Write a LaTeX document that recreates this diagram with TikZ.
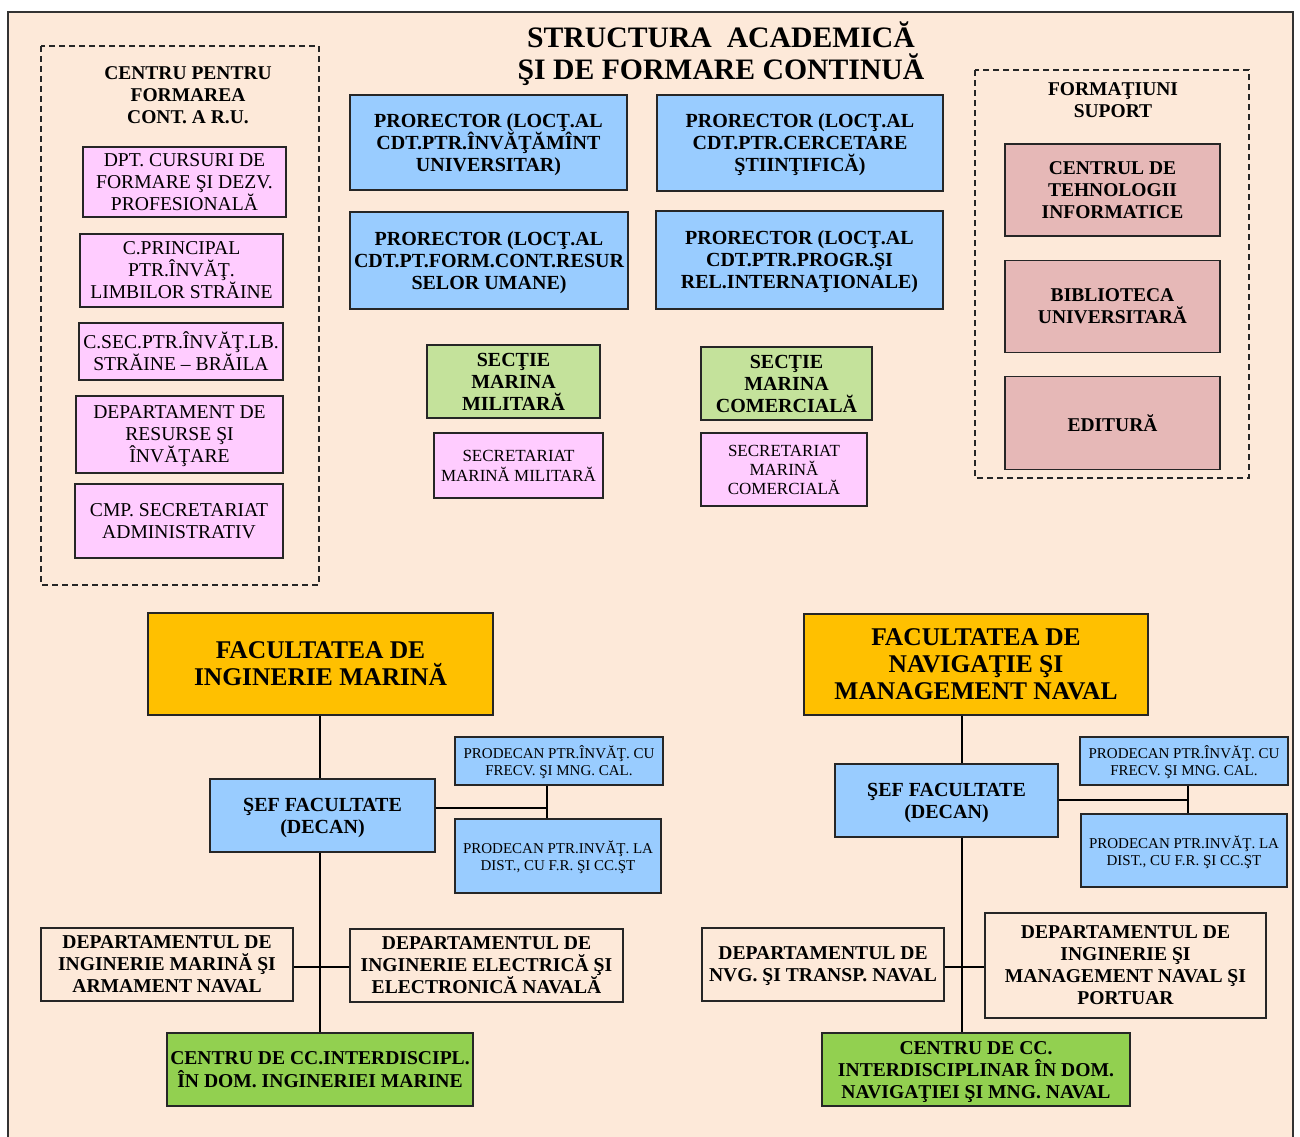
\documentclass[tikz,border=0pt]{standalone}
\usepackage{fontspec}
\setmainfont{Liberation Serif}
\usepackage{xcolor}
\usepackage{tikz}
\usetikzlibrary{positioning}

\definecolor{peach}{RGB}{253,233,217}
\definecolor{pinkfill}{RGB}{255,204,255}
\definecolor{bluefill}{RGB}{153,204,255}
\definecolor{lightgreen}{RGB}{196,226,155}
\definecolor{rosefill}{RGB}{230,184,183}
\definecolor{facyellow}{RGB}{255,192,0}
\definecolor{darkgreen}{RGB}{146,208,80}

\begin{document}
\begin{tikzpicture}[
        x=1pt, y=-1pt,
        box/.style={rectangle, draw=black!85, line width=1.3pt, align=center, inner sep=1pt, text depth=0pt},
        pinkbox/.style={box, fill=pinkfill, font=\fontsize{19.6}{22}\selectfont},
        bluebox/.style={box, fill=bluefill, font=\bfseries\fontsize{20}{22}\selectfont},
        secbox/.style={box, fill=lightgreen, font=\bfseries\fontsize{20}{22}\selectfont},
        rosebox/.style={box, fill=rosefill, font=\bfseries\fontsize{19.5}{22}\selectfont},
        facbox/.style={box, fill=facyellow, font=\bfseries\fontsize{25.5}{27}\selectfont},
        prodbox/.style={box, fill=bluefill, font=\fontsize{15}{17}\selectfont},
        deptbox/.style={box, font=\bfseries\fontsize{19.6}{22}\selectfont},
        centrubox/.style={box, fill=darkgreen, font=\bfseries\fontsize{19.6}{22.5}\selectfont},
        heading/.style={align=center, inner sep=0pt, font=\bfseries\fontsize{19.5}{22}\selectfont},
        frame/.style={draw=black!85, line width=1.3pt, dash pattern=on 6pt off 4pt},
        link/.style={draw=black, line width=1.5pt}
    ]
        \useasboundingbox (0,0) rectangle (1300,1136);
        \fill[white] (0,0) rectangle (1300,1136);
        \draw[fill=peach, draw=black!80, line width=1.3pt] (8,12) rectangle (1293,1150);

        % Title
        \node[align=center, font=\bfseries\fontsize{29.7}{32}\selectfont] (title) at (721,54)
            {STRUCTURA~ ACADEMICĂ\\ŞI DE FORMARE CONTINUĂ};

        % Left group
        \draw[frame] (41,46) rectangle (319,585);
        \node[heading] (cfc) at (188,95) {CENTRU PENTRU\\FORMAREA\\CONT. A R.U.};
        \node[pinkbox, minimum width=203pt, minimum height=70pt] (dpt) at (184.5,182)
            {DPT. CURSURI DE\\FORMARE ŞI DEZV.\\PROFESIONALĂ};
        \node[pinkbox, minimum width=203pt, minimum height=73pt] (cprinc) at (181.5,270.5)
            {C.PRINCIPAL\\PTR.ÎNVĂŢ.\\LIMBILOR STRĂINE};
        \node[pinkbox, minimum width=204pt, minimum height=57pt] (csec) at (181,351.5)
            {C.SEC.PTR.ÎNVĂŢ.LB.\\STRĂINE – BRĂILA};
        \node[pinkbox, minimum width=207pt, minimum height=77pt] (dri) at (179.5,434.5)
            {DEPARTAMENT DE\\RESURSE ŞI\\ÎNVĂŢARE};
        \node[pinkbox, minimum width=208pt, minimum height=74pt] (cmp) at (179,521)
            {CMP. SECRETARIAT\\ADMINISTRATIV};

        % Prorectors
        \node[bluebox, minimum width=277pt, minimum height=95pt] (pr1) at (488.5,142.5)
            {PRORECTOR (LOCŢ.AL\\CDT.PTR.ÎNVĂŢĂMÎNT\\UNIVERSITAR)};
        \node[bluebox, minimum width=286pt, minimum height=96pt] (pr2) at (800,143)
            {PRORECTOR (LOCŢ.AL\\CDT.PTR.CERCETARE\\ŞTIINŢIFICĂ)};
        \node[bluebox, minimum width=278pt, minimum height=97pt] (pr3) at (489,260.5)
            {PRORECTOR (LOCŢ.AL\\CDT.PT.FORM.CONT.RESUR\\SELOR UMANE)};
        \node[bluebox, minimum width=287pt, minimum height=98pt] (pr4) at (799.5,260)
            {PRORECTOR (LOCŢ.AL\\CDT.PTR.PROGR.ŞI\\REL.INTERNAŢIONALE)};

        % Sections
        \node[secbox, minimum width=173pt, minimum height=73pt] (smm) at (513.5,381.5)
            {SECŢIE\\MARINA\\MILITARĂ};
        \node[pinkbox, font=\fontsize{17}{20}\selectfont, minimum width=169pt, minimum height=65pt] (secmm) at (518.5,465.5)
            {SECRETARIAT\\MARINĂ MILITARĂ};
        \node[secbox, minimum width=171pt, minimum height=73pt] (smc) at (786.5,383.5)
            {SECŢIE\\MARINA\\COMERCIALĂ};
        \node[pinkbox, font=\fontsize{17}{19}\selectfont, minimum width=166pt, minimum height=73pt] (secmc) at (784,469.5)
            {SECRETARIAT\\MARINĂ\\COMERCIALĂ};

        % Right group
        \draw[frame] (975,70) rectangle (1249,478);
        \node[heading] (fs) at (1113,100) {FORMAŢIUNI\\SUPORT};
        \node[rosebox, minimum width=215pt, minimum height=92pt] (cti) at (1112.5,190)
            {CENTRUL DE\\TEHNOLOGII\\INFORMATICE};
        \node[rosebox, minimum width=215pt, minimum height=92pt, below=23pt of cti] (bib)
            {BIBLIOTECA\\UNIVERSITARĂ};
        \node[rosebox, minimum width=215pt, minimum height=93pt, below=23pt of bib] (ed)
            {EDITURĂ};

        % Faculty 1
        \node[facbox, minimum width=345pt, minimum height=102pt] (fim) at (320.5,664)
            {FACULTATEA DE\\INGINERIE MARINĂ};
        \node[bluebox, minimum width=225pt, minimum height=73pt] (sef1) at (322.5,815.5)
            {ŞEF FACULTATE\\(DECAN)};
        \node[prodbox, minimum width=208pt, minimum height=48pt] (pd1a) at (559,761)
            {PRODECAN PTR.ÎNVĂŢ. CU\\FRECV. ŞI MNG. CAL.};
        \node[prodbox, minimum width=206pt, minimum height=74pt] (pd1b) at (558,856)
            {PRODECAN PTR.INVĂŢ. LA\\DIST., CU F.R. ŞI CC.ŞT};
        \node[deptbox, minimum width=252pt, minimum height=73pt] (dima) at (167,964.5)
            {DEPARTAMENTUL DE\\INGINERIE MARINĂ ŞI\\ARMAMENT NAVAL};
        \node[deptbox, minimum width=273pt, minimum height=73pt] (diee) at (486.5,965.5)
            {DEPARTAMENTUL DE\\INGINERIE ELECTRICĂ ŞI\\ELECTRONICĂ NAVALĂ};
        \node[centrubox, minimum width=306pt, minimum height=73pt] (cim) at (320,1069.5)
            {CENTRU DE CC.INTERDISCIPL.\\ÎN DOM. INGINERIEI MARINE};
        \coordinate (j1) at (547,808);
        \coordinate (t1) at (320,716);

        % Faculty 2
        \node[facbox, minimum width=344pt, minimum height=101pt] (fnm) at (976,664.5)
            {FACULTATEA DE\\NAVIGAŢIE ŞI\\MANAGEMENT NAVAL};
        \node[bluebox, minimum width=223pt, minimum height=73pt] (sef2) at (946.5,800.5)
            {ŞEF FACULTATE\\(DECAN)};
        \node[prodbox, minimum width=208pt, minimum height=48pt] (pd2a) at (1184,761)
            {PRODECAN PTR.ÎNVĂŢ. CU\\FRECV. ŞI MNG. CAL.};
        \node[prodbox, minimum width=206pt, minimum height=73pt] (pd2b) at (1184,850.5)
            {PRODECAN PTR.INVĂŢ. LA\\DIST., CU F.R. ŞI CC.ŞT};
        \node[deptbox, minimum width=242pt, minimum height=73pt] (dnt) at (823,964.5)
            {DEPARTAMENTUL DE\\NVG. ŞI TRANSP. NAVAL};
        \node[deptbox, minimum width=281pt, minimum height=105pt] (dimp) at (1125.5,965.5)
            {DEPARTAMENTUL DE\\INGINERIE ŞI\\MANAGEMENT NAVAL ŞI\\PORTUAR};
        \node[centrubox, font=\bfseries\fontsize{19.6}{22}\selectfont, minimum width=308pt, minimum height=73pt] (cnm) at (976,1069.5)
            {CENTRU DE CC.\\INTERDISCIPLINAR ÎN DOM.\\NAVIGAŢIEI ŞI MNG. NAVAL};
        \coordinate (j2) at (1188,800);
        \coordinate (t2) at (962,716);

        % Links
        \draw[link] (t1 |- fim.south) -- (t1 |- sef1.north);
        \draw[link] (t1 |- sef1.south) -- (t1 |- cim.north);
        \draw[link] (sef1.east |- j1) -- (j1);
        \draw[link] (pd1a.south -| j1) -- (pd1b.north -| j1);
        \draw[link] (dima.east |- 0,967) -- (diee.west |- 0,967);
        \draw[link] (t2) -- (t2 |- sef2.north);
        \draw[link] (t2 |- sef2.south) -- (t2 |- cnm.north);
        \draw[link] (sef2.east |- j2) -- (j2);
        \draw[link] (pd2a.south -| j2) -- (pd2b.north -| j2);
        \draw[link] (dnt.east |- 0,967) -- (dimp.west |- 0,967);
    \end{tikzpicture}
\end{document}
